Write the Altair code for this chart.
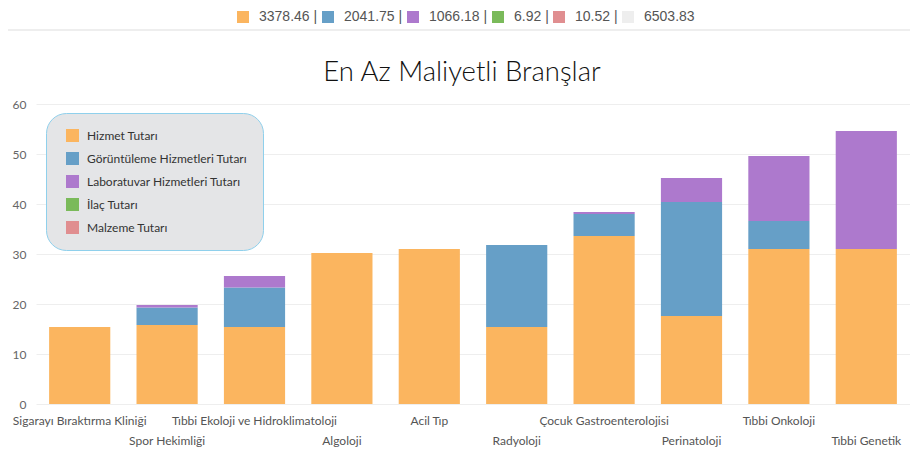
import altair as alt
import pandas as pd

title_text = "En Az Maliyetli Branşlar"
categories = [
    "Sigarayı Bıraktırma Kliniği",
    "Spor Hekimliği",
    "Tıbbi Ekoloji ve Hidroklimatoloji",
    "Algoloji",
    "Acil Tıp",
    "Radyoloji",
    "Çocuk Gastroenterolojisi",
    "Perinatoloji",
    "Tıbbi Onkoloji",
    "Tıbbi Genetik",
]
series = [
    "Hizmet Tutarı",
    "Görüntüleme Hizmetleri Tutarı",
    "Laboratuvar Hizmetleri Tutarı",
    "İlaç Tutarı",
    "Malzeme Tutarı",
]
hizmet = [15.4, 15.8, 15.4, 30.2, 31.0, 15.4, 33.6, 17.6, 31.0, 31.0]
goruntuleme = [0, 3.5, 7.9, 0, 0, 16.4, 4.4, 22.8, 5.6, 0]
laboratuvar = [0, 0.5, 2.3, 0, 0, 0, 0.4, 4.8, 13.0, 23.6]
ilac = [0, 0, 0, 0, 0, 0, 0, 0, 0, 0]
malzeme = [0, 0, 0, 0, 0, 0, 0, 0, 0, 0]
colors = ["#fbb55f", "#669fc7", "#ad79cd", "#7aba5a", "#e08e90"]

header_labels = ["3378.46 |", "2041.75 |", "1066.18 |", "6.92 |", "10.52 |", "6503.83"]
header_colors = ["#fbb55f", "#669fc7", "#ad79cd", "#7aba5a", "#e08e90", "#eeeeee"]

values = [hizmet, goruntuleme, laboratuvar, ilac, malzeme]
rows = []
for si, s in enumerate(series):
    for ci, c in enumerate(categories):
        rows.append({"cat": c, "series": s, "value": values[si][ci], "ord": si})
df = pd.DataFrame(rows)

lab_df = pd.DataFrame({"cat": categories, "row": [i % 2 for i in range(len(categories))]})
hdr_df = pd.DataFrame({"label": header_labels})
title_df = pd.DataFrame({"t": [title_text]})

FONT = "Lato"

x_enc = alt.X("cat:N", sort=categories,
              scale=alt.Scale(paddingInner=0.3, paddingOuter=0.15), axis=None)

bars = alt.Chart(df).mark_bar().encode(
    x=x_enc,
    y=alt.Y("value:Q", stack="zero", scale=alt.Scale(domain=[0, 60]),
            axis=alt.Axis(values=[0, 10, 20, 30, 40, 50, 60], title=None, domain=False,
                          ticks=False, labelColor="#666666", labelFontSize=12,
                          labelPadding=10, gridColor="#eeeeee", labelFont=FONT)),
    color=alt.Color("series:N", scale=alt.Scale(domain=series, range=colors),
                    legend=alt.Legend(orient="none", legendX=10, legendY=9, title=None,
                                      fillColor="#e4e5e7", strokeColor="#8fd0ec",
                                      cornerRadius=20, padding=16, symbolType="square",
                                      symbolSize=169, rowPadding=10, labelFontSize=12,
                                      labelColor="#333333", labelFont=FONT,
                                      symbolStrokeWidth=0, labelOffset=8, symbolOffset=4)),
    order=alt.Order("ord:Q", sort="ascending"),
)

text1 = alt.Chart(lab_df).transform_filter("datum.row == 0").mark_text(
    fontSize=12, color="#555555", font=FONT, baseline="middle"
).encode(x=x_enc, y=alt.value(317), text="cat:N")

text2 = alt.Chart(lab_df).transform_filter("datum.row == 1").mark_text(
    fontSize=12, color="#555555", font=FONT, baseline="middle"
).encode(x=x_enc, y=alt.value(337), text="cat:N")

hdr = alt.Chart(hdr_df).mark_square(opacity=0, size=0).encode(
    fill=alt.Fill("label:N", scale=alt.Scale(domain=header_labels, range=header_colors),
                  legend=alt.Legend(orient="none", legendX=200, legendY=-94,
                                    direction="horizontal", title=None, symbolType="square",
                                    symbolSize=144, symbolOpacity=1, symbolStrokeWidth=0,
                                    labelFontSize=14, labelColor="#555555",
                                    labelFont="Liberation Sans",
                                    columnPadding=3, labelOffset=9, padding=0))
)

title = alt.Chart(title_df).mark_text(
    fontSize=27.5, font=FONT, fontWeight=300, color="#111111", align="center",
    baseline="alphabetic"
).encode(x=alt.value(426), y=alt.value(-23), text="t:N")

rule_df = pd.DataFrame({"a": [0]})
rule_top = alt.Chart(rule_df).mark_rule(color="#e0e0e0").encode(
    x=alt.value(-36), x2=alt.value(882), y=alt.value(-101))
rule_bot = alt.Chart(rule_df).mark_rule(color="#dddddd").encode(
    x=alt.value(-36), x2=alt.value(882), y=alt.value(-74))

chart = alt.layer(rule_top, rule_bot, bars, text1, text2, title, hdr).properties(
    width=874, height=300,
    autosize=alt.AutoSizeParams(type="none"),
    padding={"left": 28, "top": 96, "right": 0, "bottom": 46},
).configure_view(stroke=None)

chart.save("out.html", embed_options={"renderer": "svg", "actions": False})
